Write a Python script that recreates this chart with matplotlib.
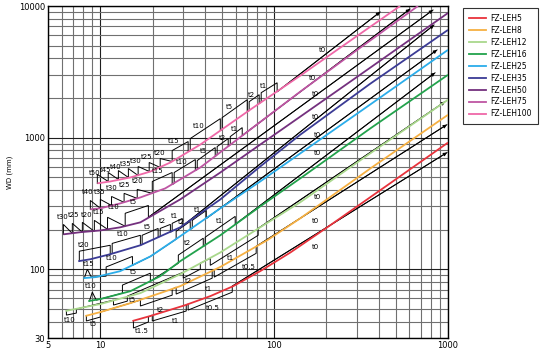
import numpy as np
import matplotlib
matplotlib.use('Agg')
import matplotlib.pyplot as plt
from matplotlib.lines import Line2D
from matplotlib.ticker import FixedLocator, FixedFormatter, LogLocator, NullFormatter

plt.rcParams['font.family'] = ['Liberation Sans Narrow', 'DejaVu Sans']

lens_names = ['FZ-LEH5', 'FZ-LEH8', 'FZ-LEH12', 'FZ-LEH16', 'FZ-LEH25',
              'FZ-LEH35', 'FZ-LEH50', 'FZ-LEH75', 'FZ-LEH100']
lens_colors = ['#e8333c', '#f6b042', '#a9d88c', '#22a24c', '#2badea',
               '#3b3b95', '#74307e', '#be55a3', '#ef68a8']

x_ticks = [5, 10, 100, 1000]
y_ticks = [30, 100, 1000, 10000]

# colored curves (FOV vs WD)
leh5_x = [15.3, 19.4, 30.8, 42.9, 58.1, 83.1, 124, 202, 464, 1000]
leh5_y = [40.4, 44.1, 53.3, 62.4, 74.3, 96.6, 134, 208, 449, 916]
leh8_x = [8.2, 10, 14.9, 22.1, 28.8, 49, 91.2, 141, 371, 1000]
leh8_y = [44.1, 47.2, 55.2, 65.8, 74.3, 104, 166, 243, 603, 1490]
leh12_x = [6.3, 7.67, 10, 17, 28.8, 49, 83.1, 141, 356, 1000]
leh12_y = [48.1, 50.7, 54.3, 65.8, 91.6, 134, 208, 322, 757, 1940]
leh16_x = [8.53, 10, 14.9, 22.1, 28.8, 49, 83.1, 141, 356, 1000]
leh16_y = [57.2, 59.3, 68.1, 88.5, 115, 181, 300, 489, 1170, 3000]
leh25_x = [7.99, 9.36, 13, 19.4, 28.8, 49, 83.1, 141, 356, 1000]
leh25_y = [85.5, 87, 96.6, 125, 178, 290, 464, 757, 1780, 4640]
leh35_x = [7.47, 8.76, 11.4, 17, 28.8, 49, 83.1, 141, 356, 1000]
leh35_y = [115, 119, 130, 152, 208, 339, 603, 1050, 2560, 6580]
leh50_x = [6.13, 7.67, 10, 13, 17, 28.8, 49, 83.1, 141, 356, 1000]
leh50_y = [184, 191, 197, 208, 227, 339, 543, 885, 1440, 3390, 8850]
leh75_x = [8.76, 10, 13, 17, 23.6, 37.6, 72.8, 141, 312, 672]
leh75_y = [285, 290, 316, 351, 411, 593, 1150, 2230, 4810, 10000]
leh100_x = [9.61, 11.4, 14.9, 19.4, 25.3, 37.6, 72.8, 141, 273, 530]
leh100_y = [449, 464, 498, 552, 647, 885, 1630, 2950, 5430, 10000]

# black extension-tube paths
leh5_bx = [15.5, 15.5, 18.9, 18.9, 19.9, 19.9, 31.2, 31.2, 32.0, 32.0, 57.4, 57.4, 987]
leh5_by = [40.4, 35.7, 39.7, 43.3, 44.8, 40.4, 48.1, 53.3, 54.3, 48.9, 66.9, 74.3, 770]
leh8_bx = [8.31, 8.31, 10, 10, 17.0, 17.0, 25.9, 25.9, 27.3, 27.3, 44.0, 44.0, 45.2, 45.2, 78.8, 78.8, 985]
leh8_by = [44.1, 40.4, 43.3, 47.2, 58.2, 52.5, 63.5, 70.5, 73.0, 64.7, 85.5, 96.6, 98.3, 87.0, 132, 149, 1254]
leh12_bx = [6.38, 6.38, 7.28, 7.28, 11.9, 11.9, 14.3, 14.3, 30.0, 30.0, 37.6, 37.6, 42.9, 42.9, 80.9, 80.9, 961]
leh12_by = [48.1, 44.8, 46.4, 49.8, 58.2, 53.4, 57.2, 62.4, 94.9, 85.5, 100, 111, 121, 107, 181, 204, 1874]
leh16_bx = [8.65, 8.99, 9.48, 13.4, 13.4, 19.4, 19.4, 28.1, 28.1, 39.1, 39.1, 40.1, 40.1, 59.7, 59.7, 842]
leh16_by = [57.2, 66.9, 58.2, 65.8, 75.7, 93.3, 81.1, 111, 128, 172, 149, 152, 175, 252, 219, 3108]
leh25_bx = [8.09, 8.42, 8.88, 10.8, 10.8, 15.3, 15.3, 19.4, 27.3, 27.3, 32.9, 32.9, 33.8, 33.8, 40.7, 40.7, 865]
leh25_by = [85.5, 100, 87.0, 88.5, 104, 125, 107, 125, 169, 194, 231, 201, 204, 235, 280, 243, 4640]
leh35_bx = [7.57, 7.57, 11.4, 11.4, 11.7, 11.7, 17.0, 17.0, 17.4, 17.4, 21.5, 21.5, 22.1, 22.1,
            25.3, 25.3, 25.9, 25.9, 29.6, 29.6, 831]
leh35_by = [115, 137, 152, 130, 132, 157, 181, 152, 155, 181, 204, 175, 178, 204,
            219, 191, 194, 223, 243, 212, 7180]
leh50_bx = [6.13, 6.13, 6.90, 6.90, 7.88, 7.88, 9.24, 9.24, 11.0, 11.0, 13.9, 13.9, 18.9, 18.9, 820]
leh50_by = [184, 219, 187, 223, 191, 227, 194, 235, 201, 248, 212, 266, 305, 248, 9326]
leh75_bx = [8.76, 8.76, 10, 10, 11.6, 11.6, 13.7, 13.7, 16.3, 16.3, 19.9, 19.9, 25.9, 25.9,
            26.6, 26.6, 35.2, 35.2, 36.1, 36.1, 45.8, 45.8, 47.0, 47.0, 54.4, 54.4,
            55.9, 55.9, 65.5, 65.5, 605]
leh75_by = [285, 333, 290, 339, 305, 357, 322, 377, 345, 404, 377, 464, 543, 440,
            448, 543, 681, 562, 572, 669, 840, 718, 743, 855, 983, 855,
            885, 1018, 1191, 1036, 9490]
leh100_bx = [9.61, 9.61, 11.1, 11.1, 12.7, 12.7, 14.5, 14.5, 16.5, 16.5, 19.1, 19.1, 22.1, 22.1,
             25.9, 25.9, 32.0, 32.0, 32.9, 32.9, 49.0, 49.0, 50.2, 50.2, 70.0, 70.0,
             71.8, 71.8, 82.0, 82.0, 84.2, 84.2, 104, 104, 407]
leh100_by = [448, 525, 464, 543, 481, 562, 498, 582, 515, 603, 553, 647, 593, 693,
             658, 797, 933, 783, 797, 983, 1393, 1130, 1150, 1418, 1941, 1574,
             1601, 1874, 2118, 1810, 1874, 2193, 2610, 2231, 9006]

# tube thickness labels
leh5_tags = [('t1.5', 17.4, 33.9), ('t1', 27.0, 40.4), ('t0.5', 44.6, 50.7), ('t0', 172, 147)]
leh8_tags = [('t5', 9.12, 38.3), ('t2', 22.1, 48.9), ('t1', 41.8, 70.5), ('t0.5', 71.8, 104), ('t0', 172, 231)]
leh12_tags = [('t10', 6.64, 41.1), ('t5', 15.3, 58.2), ('t2', 32.0, 81.1), ('t1', 55.9, 121), ('t0', 177, 351)]
leh16_tags = [('t10', 8.76, 74.3), ('t5', 15.5, 94.9), ('t2', 31.6, 157), ('t1', 48.3, 231), ('t0', 177, 770)]
leh25_tags = [('t15', 8.53, 109), ('t10', 11.7, 121), ('t2', 29.2, 227), ('t1', 36.1, 280), ('t0', 177, 1054)]
leh35_tags = [('t20', 7.99, 152), ('t10', 13.4, 184), ('t5', 18.6, 208), ('t2', 22.7, 231), ('t1', 26.6, 252),
              ('t0', 172, 1443)]
leh50_tags = [('t30', 6.05, 248), ('t25', 7.0, 257), ('t20', 8.31, 257), ('t15', 9.74, 270), ('t10', 11.9, 295),
              ('t5', 15.5, 322), ('t0', 172, 2154)]
leh75_tags = [('t40', 8.42, 383), ('t35', 9.87, 383), ('t30', 11.6, 411), ('t25', 13.7, 433), ('t20', 16.5, 472),
              ('t15', 21.3, 553), ('t10', 29.2, 647), ('t5', 39.1, 797), ('t2', 50.2, 1000), ('t1', 58.9, 1170),
              ('t0', 165, 2848)]
leh100_tags = [('t50', 9.24, 534), ('t45', 10.7, 572), ('t40', 12.2, 603), ('t35', 13.9, 635), ('t30', 15.9, 669),
               ('t25', 18.4, 706), ('t20', 21.8, 770), ('t15', 26.3, 949), ('t10', 36.6, 1233), ('t5', 55.1, 1717),
               ('t2', 73.8, 2118), ('t1', 86.5, 2477), ('t0', 189, 4640)]

curves = [(leh5_x, leh5_y), (leh8_x, leh8_y), (leh12_x, leh12_y), (leh16_x, leh16_y), (leh25_x, leh25_y),
          (leh35_x, leh35_y), (leh50_x, leh50_y), (leh75_x, leh75_y), (leh100_x, leh100_y)]
blacks = [(leh5_bx, leh5_by), (leh8_bx, leh8_by), (leh12_bx, leh12_by), (leh16_bx, leh16_by),
          (leh25_bx, leh25_by), (leh35_bx, leh35_by), (leh50_bx, leh50_by), (leh75_bx, leh75_by),
          (leh100_bx, leh100_by)]
tags = [leh5_tags, leh8_tags, leh12_tags, leh16_tags, leh25_tags, leh35_tags, leh50_tags, leh75_tags, leh100_tags]

fig = plt.figure(figsize=(5.44, 3.52), dpi=100)
ax = fig.add_axes([48 / 544, 14 / 352, 400 / 544, 332 / 352])
ax.set_xscale('log')
ax.set_yscale('log')
ax.set_xlim(5, 1000)
ax.set_ylim(30, 10000)

ax.xaxis.set_major_locator(FixedLocator(x_ticks))
ax.xaxis.set_major_formatter(FixedFormatter([str(v) for v in x_ticks]))
ax.yaxis.set_major_locator(FixedLocator(y_ticks))
ax.yaxis.set_major_formatter(FixedFormatter([str(v) for v in y_ticks]))
for axis in (ax.xaxis, ax.yaxis):
    axis.set_minor_locator(LogLocator(base=10, subs=np.arange(2, 10), numticks=50))
    axis.set_minor_formatter(NullFormatter())
ax.grid(which='major', color='#1e1e1e', lw=0.8, zorder=0)
ax.grid(which='minor', color='#707070', lw=0.8, zorder=0)
ax.set_axisbelow(True)
ax.tick_params(which='both', length=0, labelsize=6, pad=2)
for s in ax.spines.values():
    s.set_color('black')
    s.set_linewidth(1.0)

ax.set_ylabel('WD (mm)', fontsize=5, labelpad=4)

for (bx, by) in blacks:
    ax.plot(bx, by, color='black', lw=0.7, zorder=2, solid_joinstyle='miter')
    ax.annotate('', xy=(bx[-1], by[-1]), xytext=(bx[-2], by[-2]),
                arrowprops=dict(arrowstyle='-|>', color='black', lw=0.7,
                                mutation_scale=5, shrinkA=0, shrinkB=0), zorder=2)

for (cx, cy), col in zip(curves, lens_colors):
    ax.plot(cx, cy, color=col, lw=1.3, zorder=3, solid_capstyle='butt')

for tlist in tags:
    for txt, tx, ty in tlist:
        ax.text(tx, ty, txt, fontsize=5, ha='center', va='center', zorder=4)

handles = [Line2D([0], [0], color=c, lw=1.3) for c in lens_colors]
leg = fig.legend(handles, lens_names, loc='upper left', bbox_to_anchor=(463 / 544, 1 - 8 / 352),
                 frameon=True, fancybox=False, edgecolor='black', fontsize=5.5,
                 handlelength=2.2, handletextpad=0.6, labelspacing=0.38, borderpad=0.8,
                 borderaxespad=0)
leg.get_frame().set_linewidth(0.8)

fig.savefig('out.png', dpi=100)
